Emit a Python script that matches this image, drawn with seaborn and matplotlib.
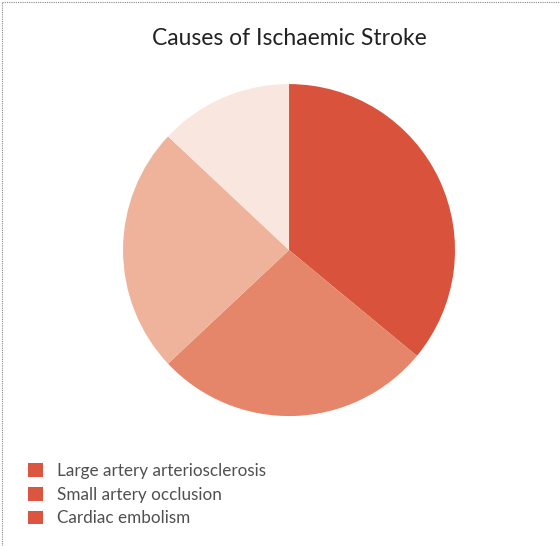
import matplotlib
matplotlib.use("Agg")
from matplotlib import pyplot as plt
from matplotlib.patches import Patch
from matplotlib.lines import Line2D
import seaborn as sns

causes = ["Large artery arteriosclerosis", "Small artery occlusion", "Cardiac embolism", "Other"]
shares = [36, 27, 24, 13]
legend_labels = causes[:3]
slice_colors = ["#d9533c", "#e5856a", "#efb39b", "#f9e6de"]
legend_color = "#db5540"

sns.set_style("white")
plt.rcParams["font.family"] = ["Lato", "DejaVu Sans"]

fig = plt.figure(figsize=(5.6, 5.46), dpi=100)
ax = fig.add_axes([0.2196, 0.238, 0.593, 0.608])

ax.pie(shares, colors=slice_colors, startangle=90, counterclock=False,
       wedgeprops={"linewidth": 0})
ax.set_xlim(-1, 1)
ax.set_ylim(-1, 1)
ax.set_aspect("equal")

fig.text(0.516, 0.93, "Causes of Ischaemic Stroke", ha="center", va="center",
         fontsize=16.5, color="#222222")

handles = [Patch(facecolor=legend_color, edgecolor="none") for _ in legend_labels]
fig.legend(handles, legend_labels, loc="upper left", bbox_to_anchor=(0.05, 0.152),
           frameon=False, prop={"size": 12.3}, labelcolor="#505050",
           handlelength=0.85, handleheight=0.85, handletextpad=0.85,
           labelspacing=0.45, borderaxespad=0, borderpad=0)

# dotted frame on top and left
fig.add_artist(Line2D([0.003, 1], [0.997, 0.997], transform=fig.transFigure,
                      color="#888888", linestyle=(0, (1, 1)), linewidth=0.8))
fig.add_artist(Line2D([0.003, 0.003], [0, 0.997], transform=fig.transFigure,
                      color="#888888", linestyle=(0, (1, 1)), linewidth=0.8))

fig.savefig("out.png", dpi=100, facecolor="white")
